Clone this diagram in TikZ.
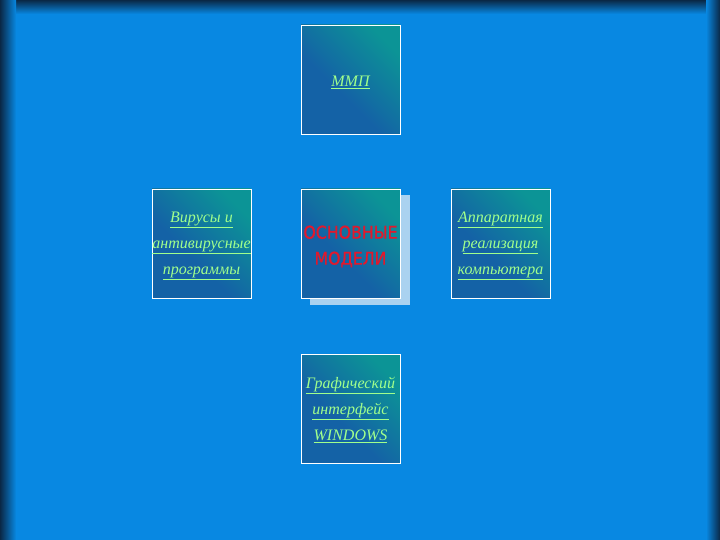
\documentclass[tikz,border=0pt]{standalone}
\usepackage{fontspec}
\setmainfont{Liberation Serif}
\newfontfamily\redfont[FakeBold=1.2]{DejaVu Sans Condensed}
\definecolor{bg}{RGB}{8,136,226}
\definecolor{edge}{RGB}{10,40,70}
\definecolor{boxblue}{RGB}{20,98,166}
\definecolor{boxteal}{RGB}{12,148,150}
\definecolor{txtgreen}{RGB}{160,255,140}
\definecolor{redtxt}{RGB}{225,25,45}
\definecolor{shadowc}{RGB}{170,210,240}
\pgfdeclarehorizontalshading{boxshade}{100bp}{color(0bp)=(boxblue); color(42bp)=(boxblue); color(75bp)=(boxteal); color(100bp)=(boxteal)}
\tikzset{
  box/.style={draw=white, line width=0.7pt, minimum width=99pt, minimum height=109pt,
    shading=boxshade, shading angle=45, inner sep=0pt},
  lbl/.style={text=txtgreen, align=center, font=\itshape\fontsize{16}{26}\selectfont},
  redlbl/.style={text=redtxt, align=center, font=\redfont\fontsize{17.5}{26}\selectfont},
}
\begin{document}
\begin{tikzpicture}[x=1pt,y=-1pt]
\useasboundingbox (0,0) rectangle (720,540);
\fill[bg] (0,0) rectangle (720,540);
\shade[top color=edge, bottom color=bg] (0,0) rectangle (720,14);
\shade[left color=edge, right color=bg] (0,0) rectangle (16,540);
\shade[left color=bg, right color=edge] (706,0) rectangle (720,540);
% boxes
\node[box] (top) at (350.5,79.5) {};
\node[lbl] (toplbl) at ([yshift=-3pt]top.center) {\underline{ММП}};
\node[box] (left) at (201.5,243.5) {};
\node[lbl] (leftlbl) at ([yshift=-2pt]left.center) {\underline{Вирусы и}\\\underline{антивирусные}\\\underline{программы}};
\fill[shadowc] (310,195) rectangle (410,305);
\node[box] (center) at (350.5,243.5) {};
\node[redlbl] (centerlbl) at ([yshift=-3pt]center.center) {ОСНОВНЫЕ\\МОДЕЛИ};
\node[box] (right) at (500.5,243.5) {};
\node[lbl] (rightlbl) at ([yshift=-2pt]right.center) {\underline{Аппаратная}\\\underline{реализация}\\\underline{компьютера}};
\node[box] (bottom) at (350.5,409) {};
\node[lbl] (bottomlbl) at ([yshift=-1pt]bottom.center) {\underline{Графический}\\\underline{интерфейс}\\\underline{WINDOWS}};
\end{tikzpicture}
\end{document}
